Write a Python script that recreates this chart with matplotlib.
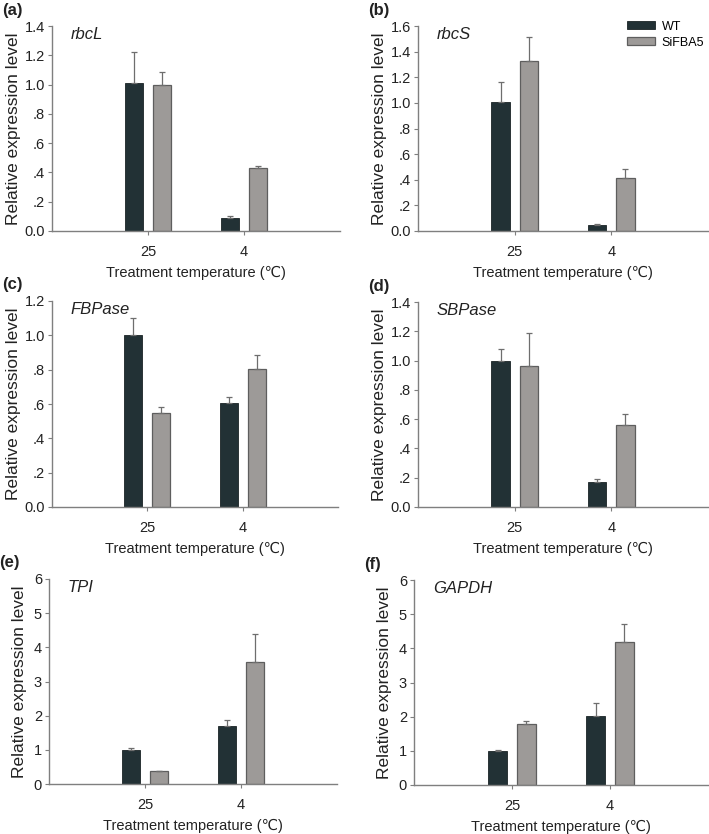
import numpy as np
import matplotlib.pyplot as plt
from matplotlib.ticker import FuncFormatter

plt.rcParams['font.family'] = ['Liberation Sans', 'DejaVu Sans']

# Data
temps = ['25', '4']
genes = ['rbcL', 'rbcS', 'FBPase', 'SBPase', 'TPI', 'GAPDH']
panels = ['(a)', '(b)', '(c)', '(d)', '(e)', '(f)']

wt_mean = {'rbcL': [1.01, 0.09], 'rbcS': [1.01, 0.045], 'FBPase': [1.00, 0.605],
           'SBPase': [1.00, 0.172], 'TPI': [1.00, 1.70], 'GAPDH': [1.00, 2.02]}
wt_err = {'rbcL': [0.21, 0.01], 'rbcS': [0.15, 0.008], 'FBPase': [0.10, 0.037],
          'SBPase': [0.08, 0.018], 'TPI': [0.06, 0.17], 'GAPDH': [0.03, 0.38]}
si_mean = {'rbcL': [0.995, 0.428], 'rbcS': [1.324, 0.416], 'FBPase': [0.547, 0.803],
           'SBPase': [0.962, 0.56], 'TPI': [0.37, 3.58], 'GAPDH': [1.79, 4.18]}
si_err = {'rbcL': [0.088, 0.018], 'rbcS': [0.193, 0.07], 'FBPase': [0.033, 0.081],
          'SBPase': [0.225, 0.073], 'TPI': [0.02, 0.80], 'GAPDH': [0.08, 0.54]}

ymax = {'rbcL': 1.4, 'rbcS': 1.6, 'FBPase': 1.2, 'SBPase': 1.4, 'TPI': 6, 'GAPDH': 6}
ystep = {'rbcL': 0.2, 'rbcS': 0.2, 'FBPase': 0.2, 'SBPase': 0.2, 'TPI': 1, 'GAPDH': 1}

# axes boxes in pixels (left, top, right, bottom) on a 709x834 canvas
W, H = 709, 834
boxes = [(52, 26, 340, 231), (418, 26, 708, 231),
         (52, 301, 338, 507), (418, 302, 708, 507),
         (49, 579, 337, 784), (414, 580, 708, 785)]
ylab_x = [-0.108, -0.108, -0.108, -0.108, -0.078, -0.076]

wt_color = '#223135'
si_color = '#9d9a98'
axis_color = '#7f7f7f'


def dec_fmt(v, pos):
    s = f'{v:.1f}'
    if s.startswith('0.') and s != '0.0':
        s = s[1:]
    return s


fig = plt.figure(figsize=(W / 100, H / 100), dpi=100)
x = np.arange(1, len(temps) + 1)
w = 0.19
off = 0.146

for i, g in enumerate(genes):
    l, t, r, b = boxes[i]
    ax = fig.add_axes([l / W, 1 - b / H, (r - l) / W, (b - t) / H])
    ax.bar(x - off, wt_mean[g], w, color=wt_color, edgecolor='#1a2426', linewidth=0.6,
           yerr=[[0, 0], wt_err[g]], error_kw=dict(ecolor='#6e6e6e', elinewidth=0.9,
                                                    capsize=2.5, capthick=0.9),
           label='WT', zorder=2)
    ax.bar(x + off, si_mean[g], w, color=si_color, edgecolor='#5e5e5e', linewidth=0.9,
           yerr=[[0, 0], si_err[g]], error_kw=dict(ecolor='#6e6e6e', elinewidth=0.9,
                                                    capsize=2.5, capthick=0.9),
           label='SiFBA5', zorder=2)
    ax.set_xlim(0, 3)
    ax.set_ylim(0, ymax[g])
    ax.set_xticks(x)
    ax.set_xticklabels(temps)
    ax.set_yticks(np.arange(0, ymax[g] + 1e-9, ystep[g]))
    if ystep[g] < 1:
        ax.yaxis.set_major_formatter(FuncFormatter(dec_fmt))
    for s in ['top', 'right']:
        ax.spines[s].set_visible(False)
    for s in ['left', 'bottom']:
        ax.spines[s].set_color(axis_color)
        ax.spines[s].set_linewidth(1.0)
    ax.tick_params(axis='both', colors=axis_color, labelcolor='#222222', labelsize=10.5,
                   length=3, width=0.8)
    ax.tick_params(axis='y', pad=2)
    ax.tick_params(axis='x', pad=7)
    ax.set_ylabel('Relative expression level', fontsize=12.5, color='#222222')
    ax.yaxis.set_label_coords(ylab_x[i], 0.5)
    ax.set_xlabel('Treatment temperature (\u2103)', fontsize=10.5, color='#222222', labelpad=5)
    ax.text(0.065, 0.995, g, transform=ax.transAxes, fontsize=12, style='italic',
            va='top', ha='left', color='#222222')
    fig.text((l - 50) / W, 1 - (t - 16) / H, panels[i],
             fontsize=12, fontweight='bold', va='center', ha='left', color='#222222')
    if g == 'rbcS':
        ax.legend(loc='upper right', bbox_to_anchor=(1.025, 1.08), frameon=False, fontsize=9,
                  handlelength=2.3, handleheight=0.6, labelspacing=0.3, handletextpad=0.5)

fig.savefig('out.png', dpi=100)
